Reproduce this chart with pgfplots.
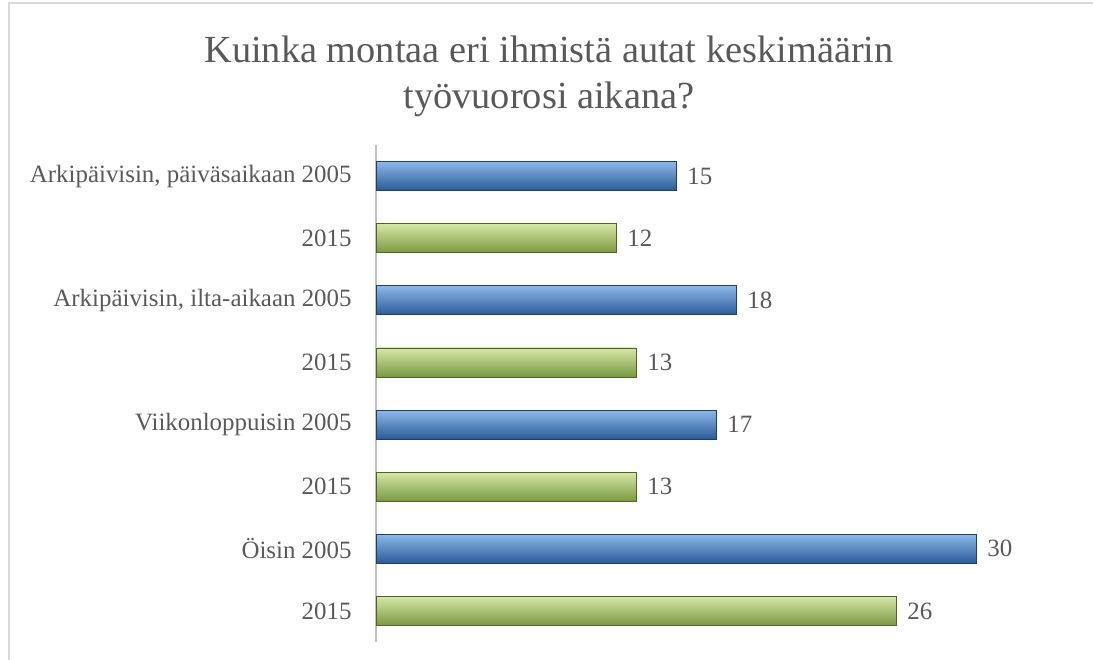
\documentclass[border=0pt]{standalone}
\usepackage{pgfplots}
\pgfplotsset{compat=1.18}
\usepackage{fontspec}
\setmainfont{Liberation Serif}
\definecolor{txt}{HTML}{595959}
\definecolor{frame}{HTML}{D9D9D9}
\definecolor{axl}{HTML}{BFBFBF}
\definecolor{bTop}{HTML}{8DB8EA}
\definecolor{bMid}{HTML}{4A7FC1}
\definecolor{bBot}{HTML}{2A5A96}
\definecolor{bEdge}{HTML}{1F3D66}
\definecolor{gTop}{HTML}{D6E8A8}
\definecolor{gMid}{HTML}{A2C263}
\definecolor{gBot}{HTML}{7A9840}
\definecolor{gEdge}{HTML}{4F6228}
\pgfplotsset{
  bluebar/.style={draw=bEdge, line width=0.8bp, top color=bTop, middle color=bMid, bottom color=bBot},
  greenbar/.style={draw=gEdge, line width=0.8bp, top color=gTop, middle color=gMid, bottom color=gBot},
}
\begin{document}
\begin{tikzpicture}[x=1bp,y=1bp]
\useasboundingbox (0,0) rectangle (1093,660);
\draw[frame, line width=1.5bp] (9,0) -- (9,657) -- (1093,657);
\node[align=center, text=txt, font=\fontsize{38.5}{46}\selectfont] at (549,584) {Kuinka montaa eri ihmistä autat keskimäärin\\työvuorosi aikana?};
\begin{axis}[
  at={(376bp,515bp)}, anchor=north west,
  scale only axis, width=700bp, height=497bp,
  xmin=0, xmax=35, ymin=-0.5, ymax=7.5,
  y dir=reverse,
  hide x axis,
  axis y line=left,
  y axis line style={-, draw=axl, line width=1.2bp},
  ytick={0,...,7},
  yticklabels={{Arkipäivisin, päiväsaikaan 2005},2015,{Arkipäivisin, ilta-aikaan 2005},2015,Viikonloppuisin 2005,2015,Öisin 2005,2015},
  ytick style={draw=none},
  yticklabel style={inner sep=0pt, xshift=-20bp, text=txt, font=\fontsize{25}{30}\selectfont},
  xbar, bar width=29bp, bar shift=0pt,
  nodes near coords,
  /pgf/number format/assume math mode=true,
  every node near coord/.append style={anchor=west, inner sep=0pt, xshift=11bp, text=txt, font=\fontsize{25}{30}\selectfont},
  clip=false,
]
\addplot[bluebar] coordinates {(15,0)};
\addplot[greenbar] coordinates {(12,1)};
\addplot[bluebar] coordinates {(18,2)};
\addplot[greenbar] coordinates {(13,3)};
\addplot[bluebar] coordinates {(17,4)};
\addplot[greenbar] coordinates {(13,5)};
\addplot[bluebar] coordinates {(30,6)};
\addplot[greenbar] coordinates {(26,7)};
\end{axis}
\end{tikzpicture}
\end{document}
